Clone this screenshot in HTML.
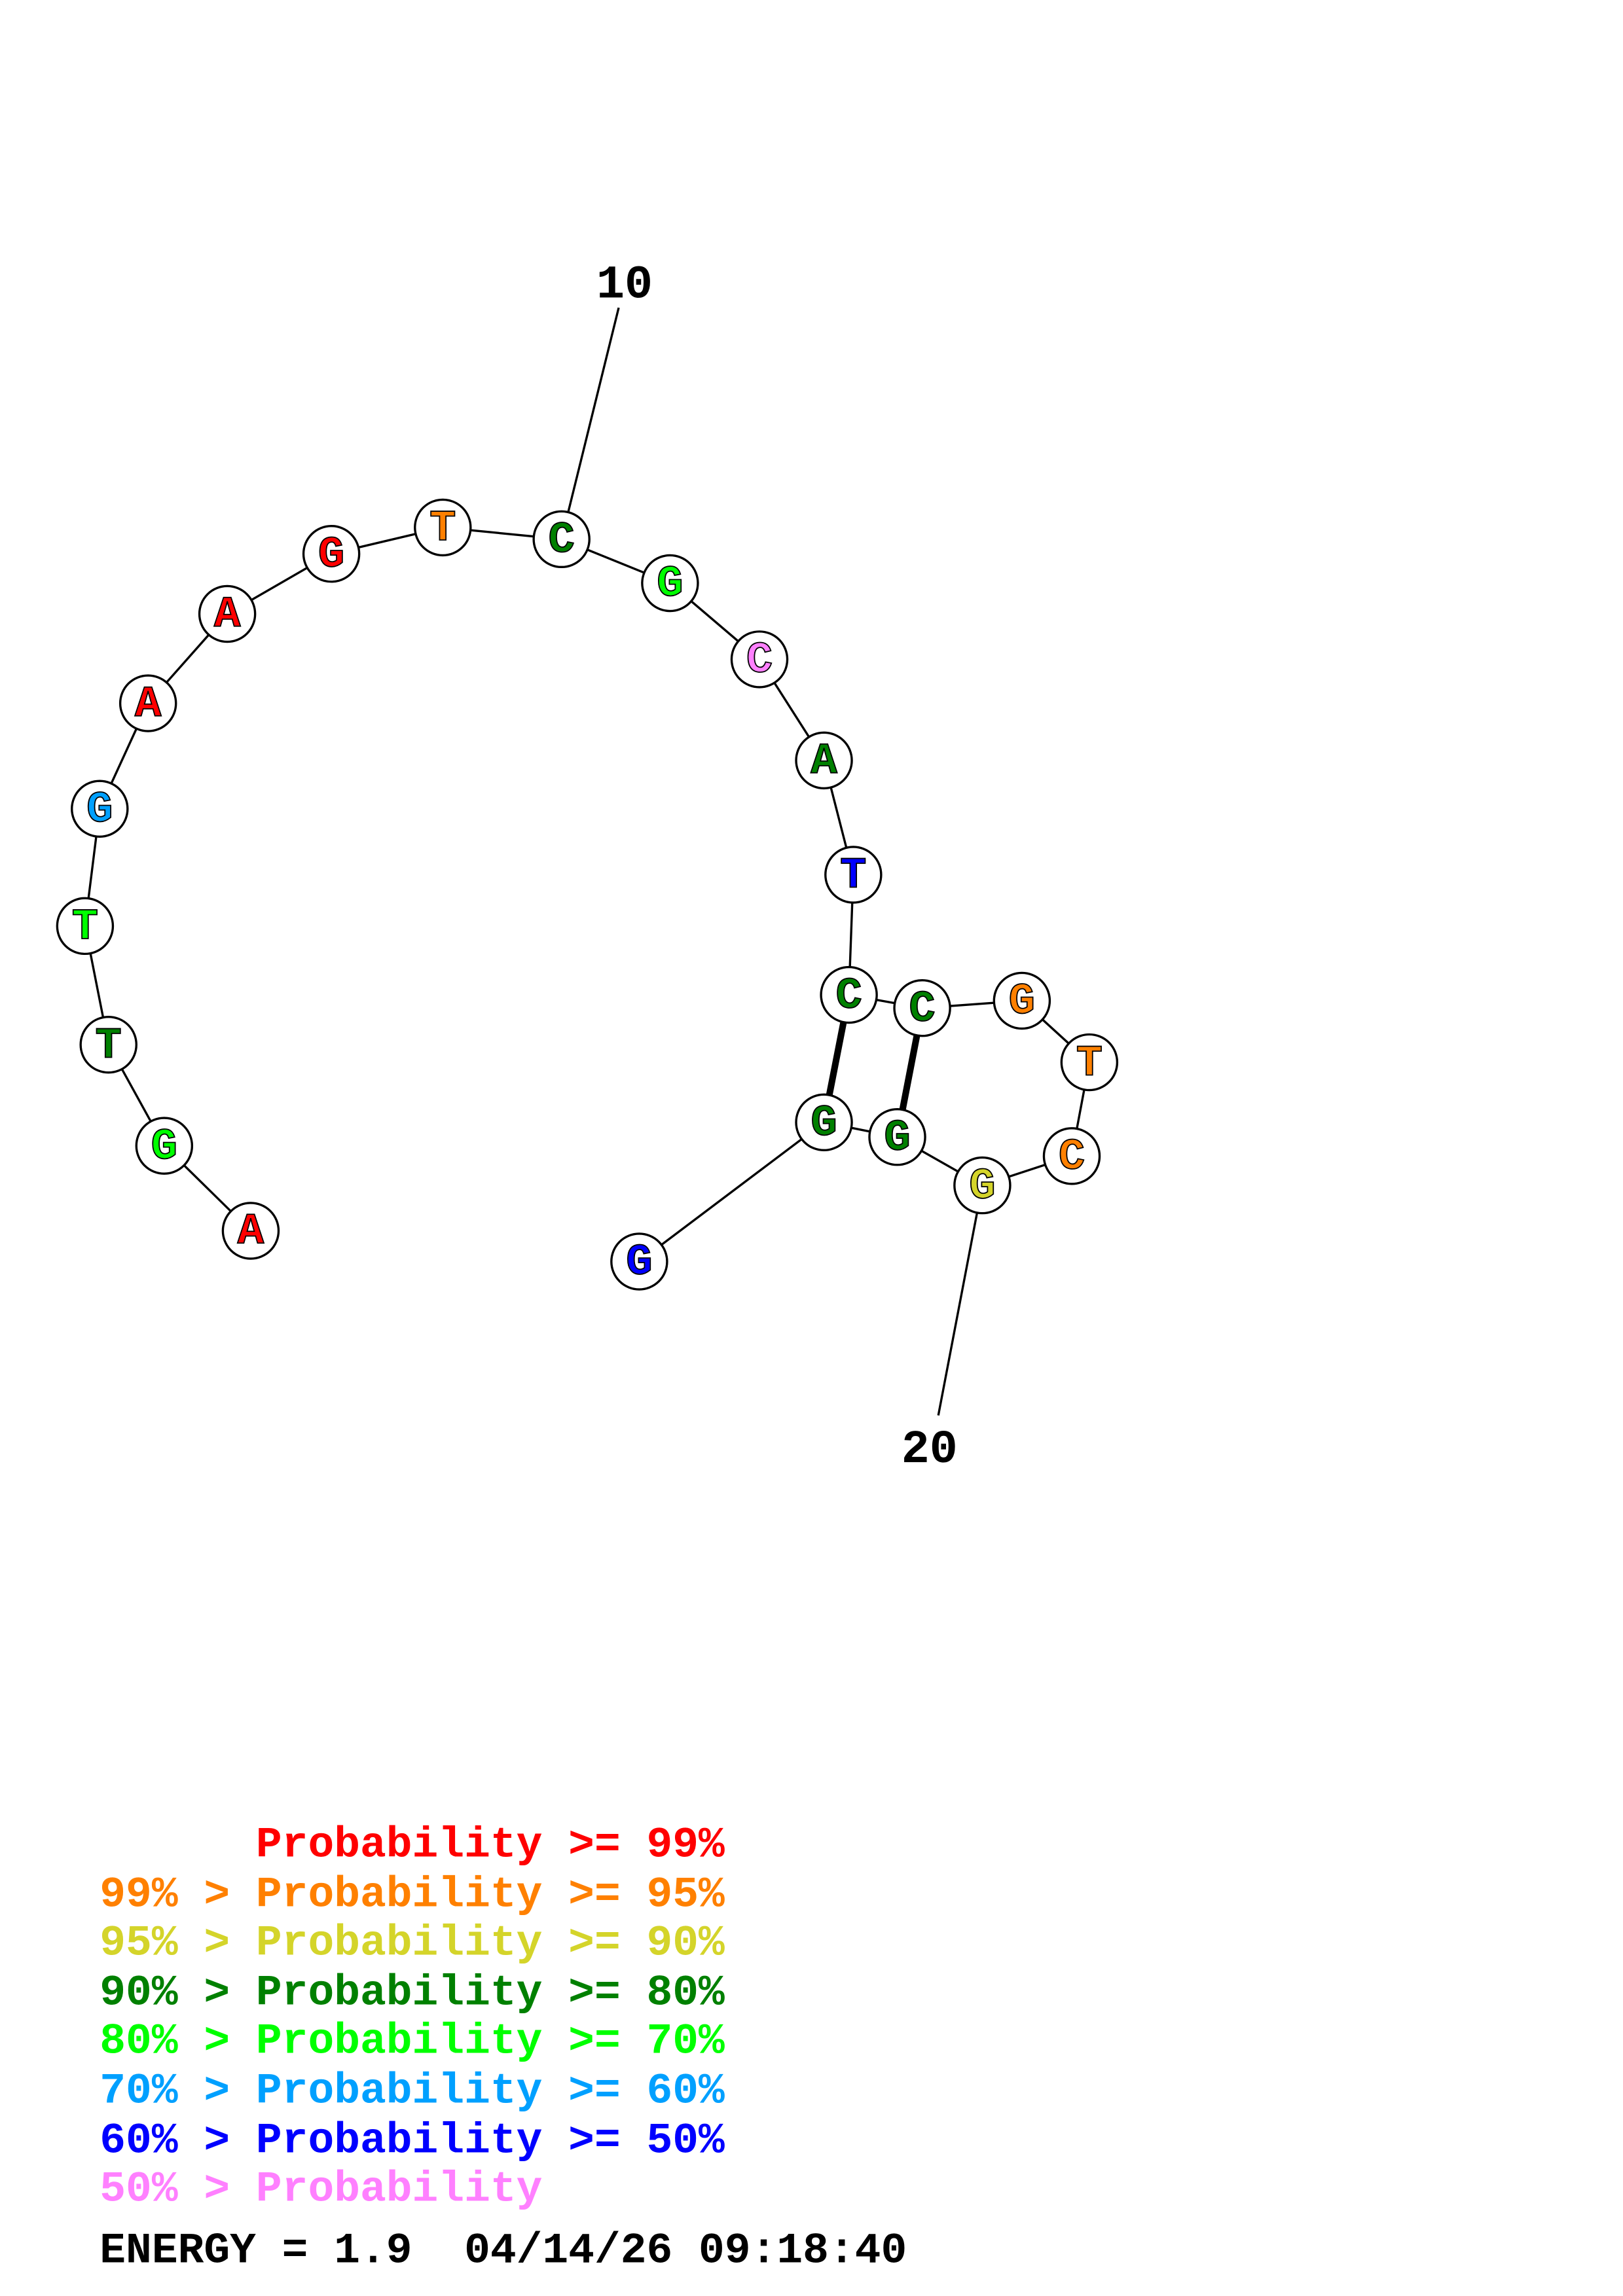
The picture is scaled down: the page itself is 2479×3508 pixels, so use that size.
<!DOCTYPE html>
<html><head><meta charset="utf-8"><style>html,body{margin:0;padding:0;background:#fff}svg{display:block}.pre text{white-space:pre}</style></head>
<body>
<svg xmlns="http://www.w3.org/2000/svg" width="2479" height="3508" viewBox="0 0 1107 1567" preserveAspectRatio="none">
<rect width="1107" height="1567" fill="#fff"/>
<g stroke="#000" stroke-width="1.5" fill="none">
<polyline points="171,840 112,782 74,713 58,632 68,552 101,480 155,419 226,378 302,360 383,368 457,398 518,450 562,519 582,597 579,679 629,688 697,683 743,725 731,789 670,809 612,776 562,766 436,861"/>
<line x1="383" y1="368" x2="422" y2="210"/>
<line x1="670" y1="809" x2="640" y2="966"/>
</g>
<g stroke="#000" stroke-width="4.5">
<line x1="579" y1="679" x2="562" y2="766"/>
<line x1="629" y1="688" x2="612" y2="776"/>
</g>
<g stroke="#000" stroke-width="1.5" fill="#fff">
<circle cx="171" cy="840" r="19"/><circle cx="112" cy="782" r="19"/><circle cx="74" cy="713" r="19"/><circle cx="58" cy="632" r="19"/><circle cx="68" cy="552" r="19"/><circle cx="101" cy="480" r="19"/><circle cx="155" cy="419" r="19"/><circle cx="226" cy="378" r="19"/><circle cx="302" cy="360" r="19"/><circle cx="383" cy="368" r="19"/><circle cx="457" cy="398" r="19"/><circle cx="518" cy="450" r="19"/><circle cx="562" cy="519" r="19"/><circle cx="582" cy="597" r="19"/><circle cx="579" cy="679" r="19"/><circle cx="629" cy="688" r="19"/><circle cx="697" cy="683" r="19"/><circle cx="743" cy="725" r="19"/><circle cx="731" cy="789" r="19"/><circle cx="670" cy="809" r="19"/><circle cx="612" cy="776" r="19"/><circle cx="562" cy="766" r="19"/><circle cx="436" cy="861" r="19"/>
</g>
<g font-family="Liberation Mono, monospace" font-weight="bold" font-size="30" text-anchor="middle" dominant-baseline="central" stroke-width="0.8">
<text x="171" y="841" fill="#f00" stroke="#000">A</text>
<text x="112" y="783" fill="#0f0" stroke="#000">G</text>
<text x="74" y="714" fill="#008000" stroke="#000">T</text>
<text x="58" y="633" fill="#0f0" stroke="#000">T</text>
<text x="68" y="553" fill="#00a0ff" stroke="#000">G</text>
<text x="101" y="481" fill="#f00" stroke="#000">A</text>
<text x="155" y="420" fill="#f00" stroke="#000">A</text>
<text x="226" y="379" fill="#f00" stroke="#000">G</text>
<text x="302" y="361" fill="#ff8000" stroke="#000">T</text>
<text x="383" y="369" fill="#008000" stroke="#000">C</text>
<text x="457" y="399" fill="#0f0" stroke="#000">G</text>
<text x="518" y="451" fill="#ff80ff" stroke="#000">C</text>
<text x="562" y="520" fill="#008000" stroke="#000">A</text>
<text x="582" y="598" fill="#00f" stroke="#000">T</text>
<text x="579" y="680" fill="#008000" stroke="#000">C</text>
<text x="629" y="689" fill="#008000" stroke="#000">C</text>
<text x="697" y="684" fill="#ff8000" stroke="#000">G</text>
<text x="743" y="726" fill="#ff8000" stroke="#000">T</text>
<text x="731" y="790" fill="#ff8000" stroke="#000">C</text>
<text x="670" y="810" fill="#d4d42a" stroke="#000">G</text>
<text x="612" y="777" fill="#008000" stroke="#000">G</text>
<text x="562" y="767" fill="#008000" stroke="#000">G</text>
<text x="436" y="862" fill="#00f" stroke="#000">G</text>
</g>
<g font-family="Liberation Mono, monospace" font-weight="bold" font-size="32" text-anchor="middle">
<text x="426" y="203">10</text>
<text x="634" y="998">20</text>
</g>
<g class="pre" font-family="Liberation Mono, monospace" font-weight="bold" font-size="29.6">
<text x="68" y="1267" fill="#f00">      Probability &gt;= 99%</text>
<text x="68" y="1301" fill="#ff8000">99% &gt; Probability &gt;= 95%</text>
<text x="68" y="1334" fill="#d4d42a">95% &gt; Probability &gt;= 90%</text>
<text x="68" y="1368" fill="#008000">90% &gt; Probability &gt;= 80%</text>
<text x="68" y="1401" fill="#0f0">80% &gt; Probability &gt;= 70%</text>
<text x="68" y="1435" fill="#00a0ff">70% &gt; Probability &gt;= 60%</text>
<text x="68" y="1469" fill="#00f">60% &gt; Probability &gt;= 50%</text>
<text x="68" y="1502" fill="#ff80ff">50% &gt; Probability</text>
<text x="68" y="1544" fill="#000">ENERGY = 1.9  04/14/26 09:18:40</text>
</g>
</svg>
</body></html>
